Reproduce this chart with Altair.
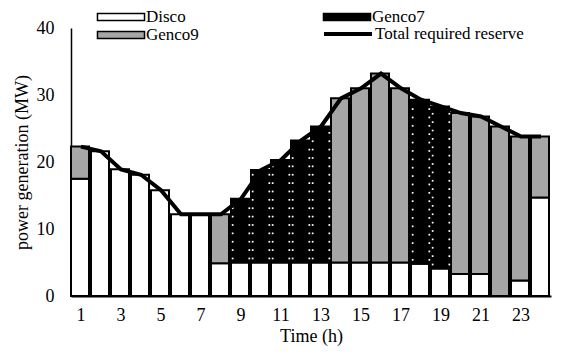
import altair as alt
import pandas as pd

hours = list(range(1, 25))
disco = [17.5, 21.6, 18.9, 18.1, 15.8, 12.2, 12.2, 4.9, 5.0, 5.0, 5.0, 5.0,
         5.0, 5.0, 5.0, 5.0, 5.0, 4.8, 4.1, 3.3, 3.3, 0.0, 2.3, 14.7]
genco7 = [0, 0, 0, 0, 0, 0, 0, 0, 9.5, 13.8, 15.3, 18.2,
          20.3, 0, 0, 0, 0, 24.5, 24.2, 0, 0, 0, 0, 0]
genco9 = [4.8, 0, 0, 0, 0, 0, 0, 7.3, 0, 0, 0, 0,
          0, 24.5, 26.0, 28.2, 26.0, 0, 0, 24.0, 23.5, 25.3, 21.5, 9.1]
reserve = [22.3, 21.6, 18.9, 18.1, 15.8, 12.2, 12.2, 12.2, 14.5, 18.8, 20.3, 23.2,
           25.3, 29.5, 31.0, 33.2, 31.0, 29.3, 28.3, 27.3, 26.8, 25.3, 23.8, 23.8]
series_names = ["Disco", "Genco7", "Genco9"]
series_colors = ["white", "black", "#a6a6a6"]
x_labels = [1, 3, 5, 7, 9, 11, 13, 15, 17, 19, 21, 23]
y_ticks = [0, 10, 20, 30, 40]

rows = []
for i, h in enumerate(hours):
    for k, (name, vals) in enumerate(zip(series_names, [disco, genco7, genco9])):
        if vals[i] > 0:
            rows.append({"hour": h, "series": name, "value": vals[i], "ord": k})
bars_df = pd.DataFrame(rows)

dots_df = pd.DataFrame({"hour": hours, "base": disco, "g7": genco7})
dots_df = dots_df[dots_df["g7"] > 0]

line_df = pd.DataFrame({"hour": hours, "reserve": reserve,
                        "name": ["Total required reserve"] * len(hours)})

FONT = "'Liberation Serif', 'Times New Roman', serif"

common_axis = dict(labelFont=FONT, titleFont=FONT, labelFontSize=18,
                   titleFontSize=18, labelColor="black", titleColor="black",
                   domainColor="black", titleFontWeight=400, labelFontWeight=400,
                   grid=False, ticks=False)

x_scale = alt.Scale(paddingInner=0, paddingOuter=0)
x_axis = alt.Axis(values=x_labels, labelAngle=0, title="Time (h)",
                  labelPadding=10, titlePadding=3, domainWidth=2, **common_axis)
y_scale = alt.Scale(domain=[0, 40], nice=False)
y_axis = alt.Axis(values=y_ticks, title="power generation (MW)",
                  labelPadding=17, titlePadding=5, domainWidth=1.5, **common_axis)

bars = alt.Chart(bars_df).mark_bar(stroke="black", strokeWidth=2).encode(
    x=alt.X("hour:O", scale=x_scale, axis=x_axis),
    y=alt.Y("value:Q", stack="zero", scale=y_scale, axis=y_axis),
    fill=alt.Fill("series:N",
                  scale=alt.Scale(domain=series_names, range=series_colors),
                  legend=alt.Legend(orient="none", legendX=41, legendY=-20,
                                    direction="horizontal",
                                    columns=2, columnPadding=121, rowPadding=1,
                                    padding=0, title=None,
                                    symbolType="M-2.94,-0.44H2.94V0.44H-2.94Z",
                                    symbolSize=256, symbolStrokeColor="black",
                                    symbolStrokeWidth=1.5, labelOffset=16,
                                    labelFont=FONT, labelFontSize=17,
                                    labelColor="black")),
    order=alt.Order("ord:Q"),
)

dots = alt.Chart(dots_df).transform_calculate(
    ys="sequence(datum.base + 0.6, datum.base + datum.g7 - 0.3, 1.25)",
    cols="[0, 1]",
).transform_flatten(["ys"]).transform_flatten(["cols"]).mark_square(
    color="white", size=3, opacity=1
).encode(
    x=alt.X("hour:O", scale=x_scale, axis=x_axis),
    xOffset=alt.XOffset("cols:O", scale=alt.Scale(paddingOuter=0.1)),
    y=alt.Y("ys:Q", scale=y_scale, axis=y_axis),
)

line = alt.Chart(line_df).mark_line(strokeWidth=4).encode(
    x=alt.X("hour:O", scale=x_scale, axis=x_axis),
    y=alt.Y("reserve:Q", scale=y_scale, axis=y_axis),
    stroke=alt.Stroke("name:N",
                      scale=alt.Scale(domain=["Total required reserve"], range=["black"]),
                      legend=alt.Legend(orient="none", legendX=267, legendY=-4,
                                        padding=0, title=None,
                                        symbolType="M-3,0H3",
                                        symbolSize=256, symbolStrokeWidth=4,
                                        labelOffset=17, labelFont=FONT,
                                        labelFontSize=17, labelColor="black")),
)

chart = alt.layer(bars, dots, line).resolve_scale(fill="independent").properties(
    width=480, height=268,
    padding={"left": 5, "top": 0, "right": 5, "bottom": 5},
).configure(font=FONT).configure_view(stroke=None).configure_axis(
    labelFont=FONT, titleFont=FONT, titleFontWeight=400,
    labelFontSize=18, titleFontSize=18,
)

chart.save("out.html", embed_options={"renderer": "svg", "actions": False})
